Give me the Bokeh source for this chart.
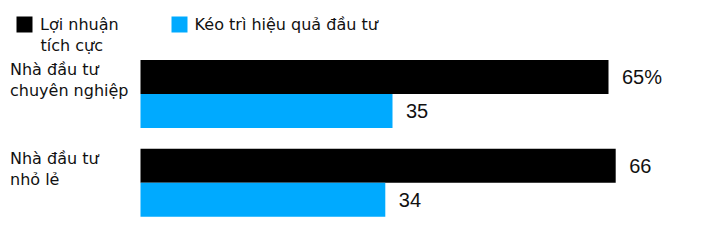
from bokeh.plotting import figure
from bokeh.models import Range1d, ColumnDataSource, Legend, LegendItem, Label
from bokeh.embed import file_html
from bokeh.resources import INLINE
from bokeh.core.properties import value

# ---- data ----
categories = ["Nhà đầu tư\nchuyên nghiệp", "Nhà đầu tư\nnhỏ lẻ"]
series_names = ["Lợi nhuận\ntích cực", "Kéo trì hiệu quả đầu tư"]
positive = [65, 66]
drag = [35, 34]
positive_labels = ["65%", "66"]
drag_labels = ["35", "34"]

BLACK = "#000000"
BLUE = "#00aaff"

W, H = 708, 244
px_per_unit = 7.2
left_px = 140
x0 = -left_px / px_per_unit
x1 = (W - left_px) / px_per_unit

p = figure(width=W, height=H, output_backend="svg", toolbar_location=None,
           x_range=Range1d(x0, x1), y_range=Range1d(1.695, -1.053),
           min_border=0, min_border_left=0, min_border_right=0,
           min_border_top=0, min_border_bottom=0)
p.axis.visible = False
p.grid.visible = False
p.outline_line_color = None
p.background_fill_color = "white"
p.border_fill_color = "white"

bar_h = 0.383
idx = list(range(len(categories)))
src = ColumnDataSource(dict(
    y_pos=[i - bar_h / 2 for i in idx],
    y_drag=[i + bar_h / 2 for i in idx],
    y_top=[i - bar_h for i in idx],
    positive=positive, drag=drag,
    plab=positive_labels, dlab=drag_labels,
    cat=categories,
    xl=[x0] * len(idx),
))

r1 = p.hbar(y="y_pos", left=0, right="positive", height=bar_h, source=src,
            fill_color=BLACK, line_color=None)
r2 = p.hbar(y="y_drag", left=0, right="drag", height=bar_h, source=src,
            fill_color=BLUE, line_color=None)

p.text(x="positive", y="y_pos", text="plab", source=src, x_offset=13.5,
       text_baseline="middle", text_align="left", text_font=value("Liberation Sans"),
       text_font_size="20px", text_color="#111111")
p.text(x="drag", y="y_drag", text="dlab", source=src, x_offset=13.5,
       text_baseline="middle", text_align="left", text_font=value("Liberation Sans"),
       text_font_size="20px", text_color="#111111")

p.text(x="xl", y="y_top", text="cat", source=src, x_offset=9.5, y_offset=0,
       text_baseline="top", text_align="left", text_font=value("DejaVu Sans"),
       text_font_size="16px", text_color="#111111", text_line_height=1.1)

first_lines = [s.split("\n")[0] for s in series_names]
extra_line = series_names[0].split("\n")[1]

legend = Legend(items=[LegendItem(label=first_lines[0], renderers=[r1]),
                       LegendItem(label=first_lines[1], renderers=[r2])],
                orientation="horizontal", location="top_left",
                margin=14, padding=7, spacing=50,
                glyph_width=20, glyph_height=20, label_standoff=6,
                label_text_font="DejaVu Sans", label_text_font_size="16px",
                label_text_color="#111111",
                border_line_color=None, background_fill_alpha=0)
p.add_layout(legend, "center")

p.add_layout(Label(x=40, y=H - 44.5, x_units="screen", y_units="screen",
                   text=extra_line, text_font="DejaVu Sans", text_font_size="16px",
                   text_color="#111111", text_baseline="alphabetic"))

open("out.html", "w").write(file_html(p, INLINE))
